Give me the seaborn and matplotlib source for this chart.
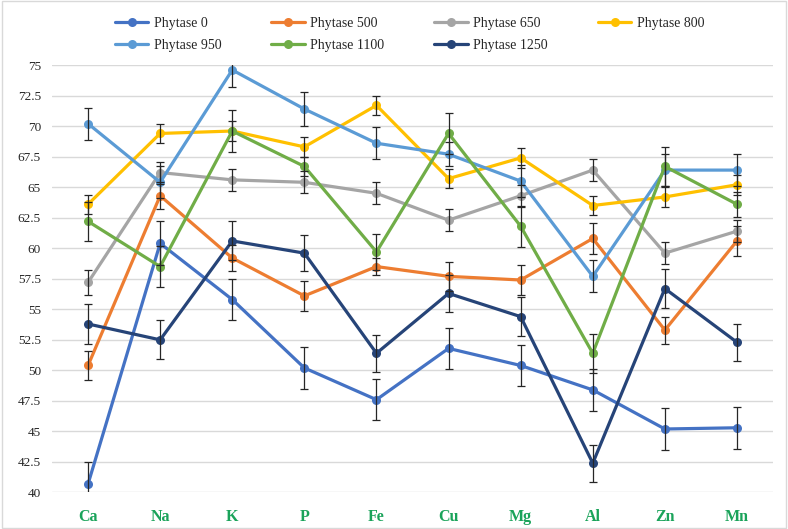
import pandas as pd
import matplotlib
matplotlib.use("Agg")
import matplotlib.pyplot as plt
import seaborn as sns

# --- Data ---
minerals = ["Ca", "Na", "K", "P", "Fe", "Cu", "Mg", "Al", "Zn", "Mn"]
groups = ["Phytase 0", "Phytase 500", "Phytase 650", "Phytase 800",
          "Phytase 950", "Phytase 1100", "Phytase 1250"]

phytase_0 = [40.7, 60.4, 55.8, 50.2, 47.6, 51.8, 50.4, 48.4, 45.2, 45.3]
phytase_500 = [50.4, 64.3, 59.2, 56.1, 58.5, 57.7, 57.4, 60.8, 53.3, 60.6]
phytase_650 = [57.2, 66.2, 65.6, 65.4, 64.5, 62.3, 64.3, 66.4, 59.6, 61.4]
phytase_800 = [63.6, 69.4, 69.6, 68.3, 71.7, 65.7, 67.4, 63.5, 64.2, 65.2]
phytase_950 = [70.2, 65.4, 74.6, 71.4, 68.6, 67.7, 65.5, 57.7, 66.4, 66.4]
phytase_1100 = [62.2, 58.5, 69.6, 66.7, 59.7, 69.4, 61.8, 51.4, 66.7, 63.6]
phytase_1250 = [53.8, 52.5, 60.6, 59.6, 51.4, 56.3, 54.4, 42.4, 56.7, 52.3]

err_0 = [1.8, 1.8, 1.7, 1.7, 1.7, 1.7, 1.7, 1.7, 1.7, 1.7]
err_500 = [1.2, 1.1, 1.1, 1.2, 0.7, 1.2, 1.2, 1.3, 1.1, 1.2]
err_650 = [1.0, 0.9, 0.9, 0.9, 0.9, 0.9, 0.9, 0.9, 0.9, 0.9]
err_800 = [0.8, 0.8, 0.8, 0.8, 0.8, 0.8, 0.8, 0.8, 0.8, 0.8]
err_950 = [1.3, 1.3, 1.4, 1.4, 1.3, 1.0, 1.3, 1.3, 1.3, 1.3]
err_1100 = [1.6, 1.7, 1.7, 0.8, 1.5, 1.7, 1.7, 1.6, 1.6, 1.0]
err_1250 = [1.6, 1.6, 1.6, 1.5, 1.5, 1.5, 1.6, 1.5, 1.6, 1.5]

values = [phytase_0, phytase_500, phytase_650, phytase_800,
          phytase_950, phytase_1100, phytase_1250]
errors = [err_0, err_500, err_650, err_800, err_950, err_1100, err_1250]
colors = ["#4472C4", "#ED7D31", "#A5A5A5", "#FFC000",
          "#5B9BD5", "#70AD47", "#264478"]

rows = []
for g, vals, errs in zip(groups, values, errors):
    for m, v, e in zip(minerals, vals, errs):
        rows.append({"mineral": m, "group": g, "value": v, "err": e})
df = pd.DataFrame(rows)

# --- Plot ---
sns.set_theme(style="white")
plt.rcParams["font.family"] = ["Liberation Serif", "DejaVu Serif"]

fig = plt.figure(figsize=(7.88, 5.29), dpi=100)
ax = fig.add_axes([0.066, 0.069, 0.915, 0.808])

sns.lineplot(data=df, x="mineral", y="value", hue="group", hue_order=groups,
             palette=colors, marker="o", markersize=6.5, markeredgewidth=0,
             linewidth=2.3, ax=ax, zorder=3)

for g, c in zip(groups, colors):
    sub = df[df["group"] == g]
    ax.errorbar(sub["mineral"], sub["value"], yerr=sub["err"], fmt="none",
                ecolor="#262626", elinewidth=0.9, capsize=3, capthick=0.9,
                zorder=4)

ax.set_ylim(40, 75)
ax.set_xlim(-0.5, len(minerals) - 0.5)
ax.set_yticks([40 + 2.5 * i for i in range(15)])
ax.set_yticklabels([f"{40 + 2.5 * i:g}" for i in range(15)], fontsize=9.5)
ax.yaxis.grid(True, color="#D9D9D9", linewidth=1)
ax.set_axisbelow(True)
for s in ax.spines.values():
    s.set_visible(False)
ax.tick_params(axis="both", length=0, pad=8)
ax.set_xlabel("")
ax.set_ylabel("")
for lbl in ax.get_xticklabels():
    lbl.set_color("#1AA35A")
    lbl.set_fontweight("bold")
    lbl.set_fontsize(11.5)
ax.tick_params(axis="x", pad=12)

# legend: 4 columns, filled row-wise like the reference
handles, labels = ax.get_legend_handles_labels()
order = [0, 4, 1, 5, 2, 6, 3]
ax.legend([handles[i] for i in order], [labels[i] for i in order],
          ncol=4, frameon=False, loc="upper left",
          bbox_to_anchor=(0.13, 0.992), bbox_transform=fig.transFigure,
          fontsize=10, handlelength=2.4, columnspacing=3.6,
          handletextpad=0.4, labelspacing=0.65)

# light outer border
fig.patches.append(plt.Rectangle((0.002, 0.002), 0.996, 0.996,
                                 transform=fig.transFigure, fill=False,
                                 edgecolor="#D9D9D9", linewidth=1))

fig.savefig("out.png", dpi=100)
